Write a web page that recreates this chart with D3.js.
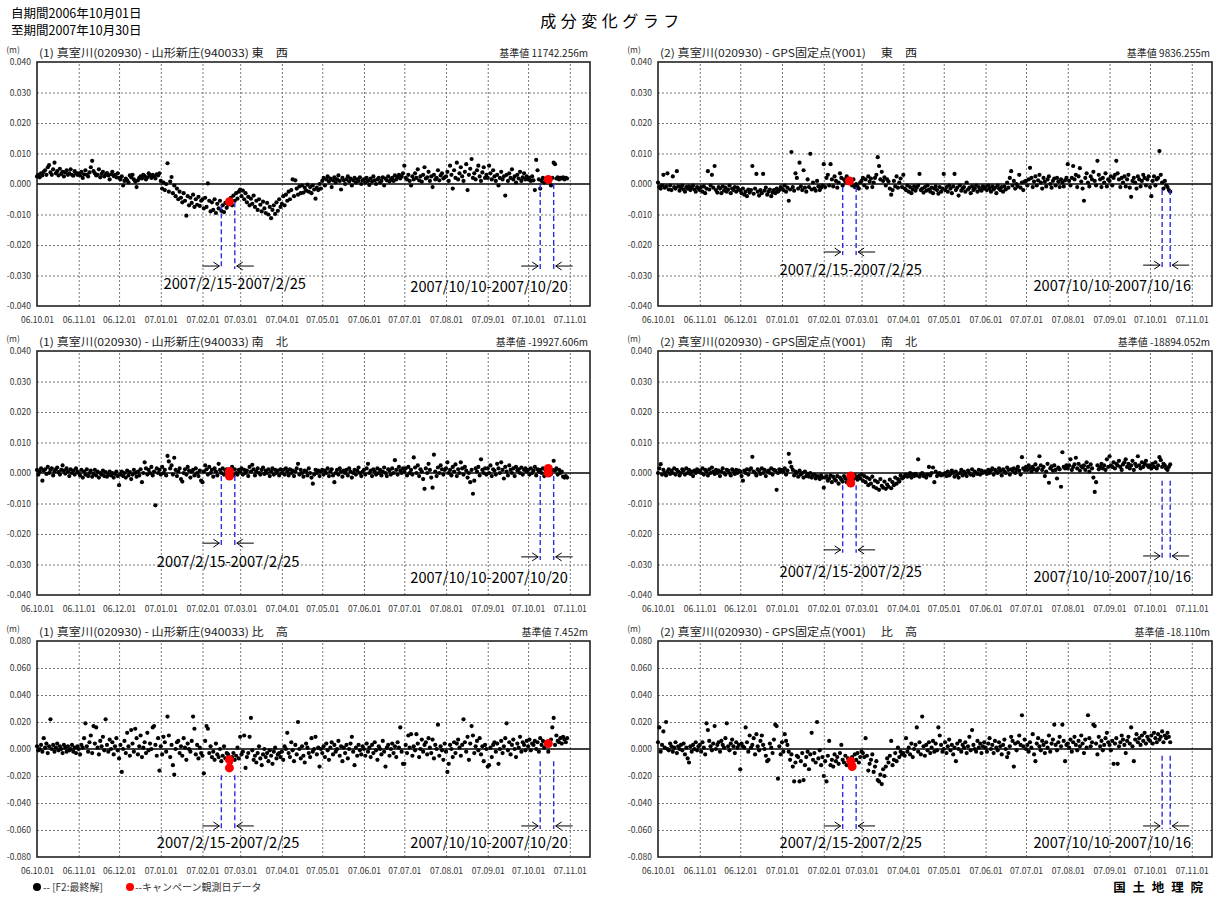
<!DOCTYPE html>
<html>
<head>
<meta charset="utf-8">
<script src="https://cdn.jsdelivr.net/npm/d3@7"></script>
<style>
body { margin: 0; background: #fff; }
svg text { font-family: "Noto Sans CJK JP", "Noto Sans", sans-serif; }
</style>
</head>
<body>
<svg id="chart" width="1215" height="898"></svg>
<script>
// daily values, one inner array per month (2006-10 ... 2007-10)
// rows 1-2 in 0.1 mm, row 3 in 1 mm
const ew1 = [
  [25,30,22,35,28,40,45,30,55,62,38,30,48,70,35,42,28,50,33,40,25,38,45,30,35,48,30,27,42,36,30],
  [35,28,40,20,32,45,30,25,38,55,76,42,35,28,30,48,22,33,40,25,30,36,28,15,32,40,26,30,22,35],
  [20,15,25,-5,10,18,12,5,28,22,30,15,8,-10,12,20,25,18,30,26,15,22,35,28,20,30,25,18,32,28,35],
  [10,-15,5,-20,0,68,-25,8,23,-30,-5,-40,-15,-50,-25,-45,-60,-30,-55,-104,-40,-70,-45,-62,-35,-75,-50,-68,-42,-72,-55],
  [-50,-80,-45,-75,2,-55,-90,-60,-85,-50,-95,-65,-80,-55,-88,-70,-92,-62,-78,-68,-60,-45,-70,-38,-55,-30,-48,-25],
  [-18,-40,-22,-50,-30,-60,-42,-70,-48,-65,-38,-75,-55,-85,-50,-68,-90,-58,-80,-95,-62,-100,-75,-112,-85,-70,-98,-60,-88,-50,-75],
  [-65,-40,-70,-35,-55,-25,-50,-20,15,-40,12,-15,-35,-8,-30,-5,-28,-12,-22,-2,-25,-10,-30,-5,-18,-48,-12,-20,0,-15],
  [10,20,-5,15,25,8,18,-10,12,22,5,15,28,10,-18,20,12,0,15,25,8,18,-5,12,20,5,15,10,22,0,12],
  [15,5,20,10,-3,18,8,25,12,0,15,20,5,10,22,-5,18,12,25,8,15,20,10,28,15,22,30,18,25,35],
  [60,20,15,30,10,-5,25,15,35,20,48,12,25,8,30,55,18,22,40,10,25,-10,30,15,20,45,12,28,35,18,22],
  [25,40,10,60,30,-15,45,20,70,15,35,55,25,10,40,65,-20,30,50,82,20,35,15,45,60,25,10,38,55,20,30],
  [20,60,35,15,45,25,10,30,-5,20,40,15,25,-38,30,10,35,20,48,15,25,5,30,18,40,10,22,35,15,25],
  [15,20,10,25,12,-20,79,45,15,-15,10,20,5,15,12,15,8,-5,20,70,65,18,22,15,20,18,22,15,20,18]
];
const ew2 = [
  [5,-10,-15,-5,30,-12,-8,35,-18,-5,-20,25,-10,-15,42,-8,-22,-12,-5,-18,-25,-10,-15,-8,-20,-12,-5,-18,-25,-10,-15],
  [-20,-10,-25,-8,-30,-15,42,-18,-5,30,-12,59,-20,-28,-10,-15,-30,-8,-22,-12,-25,-18,-5,-30,-15,-20,-10,-25,-12,-18],
  [-22,-30,-15,-35,-25,-40,-18,-28,-20,59,-32,-15,33,-25,-38,-20,-30,33,-22,-12,-35,-25,-18,-40,-28,-20,-30,-15,-25,-20,-10],
  [-15,-20,-5,-25,-12,-55,-18,105,-10,-22,35,20,-15,70,-8,-20,45,-12,-25,15,-10,99,-18,5,-15,-22,10,-8,-20,-12,-5],
  [65,-10,20,30,-5,65,15,-8,25,10,-12,5,35,20,-5,15,8,25,12,5,10,-5,15,-10,0,-8,-15,5],
  [10,20,-5,15,-12,25,8,18,-10,5,20,30,88,59,15,40,10,22,-5,15,8,-15,-35,-20,10,-8,25,-12,5,18,-10],
  [30,-15,-20,-5,-25,-10,-30,-18,-8,-22,-12,-5,33,-20,-15,-28,-10,-22,-5,-18,-25,-12,-30,-15,-8,-20,-32,-10,-25,-15],
  [33,-20,-10,-25,-5,-15,-30,-8,33,-20,-12,-38,-5,-22,-15,-10,-25,5,-18,-12,-30,-8,-20,-15,-5,-25,-10,-18,-22,-8,-15],
  [-10,-20,-5,-15,-25,-8,-18,-12,-30,-5,-15,-20,-10,-25,-8,-18,5,-12,20,42,-5,10,-15,0,-8,30,-12,5,-20,8],
  [10,-5,15,53,20,-10,8,25,-5,12,30,5,-15,20,8,-8,15,25,0,-12,10,18,-5,20,8,-10,15,5,-8,12,20],
  [65,10,-5,20,59,15,30,-10,25,52,8,-15,-55,20,35,5,-8,25,15,40,10,-5,76,30,15,-10,20,5,35,-8,15],
  [10,25,-5,20,30,76,35,15,-10,20,5,25,-8,15,30,-12,-42,10,20,5,-15,25,15,-8,10,30,20,-5,15,25],
  [-10,-40,10,25,-5,15,20,108,30,5,-15,10,-5,-10,-20,-25]
];
const ns1 = [
  [10,-5,5,15,-25,8,12,-3,20,0,10,15,-8,5,12,18,3,-5,10,25,8,-2,15,5,-10,12,0,8,-5,15,5],
  [0,-8,10,-15,5,-5,12,-10,0,8,-12,-3,10,-8,5,-15,0,-5,8,-10,3,-12,-5,5,-8,0,-15,-3,5,-10],
  [-40,-5,5,-10,0,-15,8,-8,3,-20,-5,10,0,-12,5,-8,12,-30,0,35,15,-5,10,0,20,-8,5,-106,15,0,10],
  [-5,20,0,10,-8,56,38,15,25,-5,50,10,-10,5,15,-20,-28,0,12,-5,20,8,-15,5,10,-8,15,0,-10,8,-25],
  [-30,5,25,12,-5,20,0,10,-12,15,5,-8,30,10,0,15,-5,8,12,0,-10,5,20,-8,12,0,-5,10],
  [5,15,-5,10,0,8,-10,20,5,27,12,-8,5,15,0,-5,10,18,-3,8,0,12,-10,5,15,-5,10,0,8,-8,12],
  [0,10,-5,15,5,-8,12,0,8,-10,5,15,30,-5,10,0,-12,8,5,-8,15,0,-15,-35,-5,10,0,8,-10,5],
  [10,-5,8,0,15,-10,5,12,-8,-30,0,10,-5,15,5,-12,8,0,10,-8,15,5,-15,0,10,-5,8,18,0,-10,5],
  [10,-5,15,30,0,8,-10,12,5,-5,15,0,10,-8,5,18,0,-10,12,8,-5,15,0,42,10,-5,20,8,0,15],
  [5,15,-8,20,0,10,-5,51,18,0,25,-10,12,5,-20,-52,15,0,30,10,-15,-48,60,5,-10,18,0,25,12,-5,10],
  [15,35,0,10,-8,20,5,28,-10,12,0,35,15,-5,20,8,-15,0,-30,10,-68,-25,15,5,20,-8,45,10,0,15,-5],
  [15,0,25,-10,12,8,-5,30,15,0,35,10,-18,20,5,-8,25,10,0,15,-10,20,8,12,0,18,-5,10,15,5],
  [10,-5,15,0,8,20,-8,12,5,10,0,15,-10,8,12,15,5,-3,10,40,8,15,-5,10,0,5,-12,-15,-10,-15]
];
const ns2 = [
  [0,15,29,-5,10,0,-8,5,12,-3,8,0,15,-5,10,5,-8,0,12,8,-5,15,0,10,-3,5,-10,8,0,12,5],
  [8,0,15,-5,10,5,-8,12,0,18,5,-3,10,0,8,-10,5,15,0,-5,10,8,0,-8,12,5,-3,10,0,8],
  [5,-10,-25,8,0,12,-5,10,15,53,5,0,-8,12,8,-3,15,0,10,-10,5,8,0,15,-5,10,8,-55,0,12,5],
  [10,5,15,-5,8,63,35,20,10,-8,5,0,-12,8,-5,0,-15,5,-10,-3,-12,0,-15,-8,-5,-18,-10,-12,-20,-8,-15],
  [-48,-15,-10,-25,-18,-8,-30,-12,-20,-25,-10,-35,-15,-22,-28,-10,-18,-30,-15,-20,-25,-12,-20,-8,-15,-22,-10,-18],
  [-5,-25,-10,-30,-15,-40,-20,-35,-12,-45,-25,-50,-30,-55,-20,-42,-48,-28,-52,-38,-45,-22,-50,-30,-40,-15,-35,-20,-28,-8,-18],
  [-15,-10,-5,-12,-8,0,-15,-5,-10,-3,-8,45,-12,-5,0,-10,-8,-15,-5,20,-8,0,18,-30,5,-10,-3,0,-8,-5],
  [-5,0,-10,5,-8,-3,8,0,-12,5,-5,-15,0,10,-8,5,-3,-10,8,0,-5,12,-8,5,0,-3,10,-5,8,0,5],
  [5,-3,10,0,8,15,-5,10,5,0,15,8,-8,12,5,0,18,10,-5,12,8,15,0,10,20,8,-5,52,15,10],
  [20,10,25,15,5,20,12,28,8,15,55,25,10,20,-10,5,30,-32,15,22,8,25,10,-18,18,12,-45,68,20,15,25],
  [15,25,45,10,20,28,50,15,30,8,22,18,25,10,35,20,5,28,15,-15,-62,-30,25,12,20,30,15,25,10,45,20],
  [55,25,20,35,15,30,25,40,20,10,28,35,45,20,30,15,25,40,10,30,22,55,25,15,35,20,30,40,25,20],
  [25,15,30,20,35,15,25,52,42,20,30,25,15,10,20,28]
];
const ud1 = [
  [2,-1,0,3,-2,8,1,4,-3,2,22,0,3,-2,1,4,-1,2,0,-3,3,1,-2,2,-1,0,3,-2,1,-3,2],
  [0,-4,3,1,8,19,2,-2,5,10,-3,17,4,16,1,-4,6,2,9,-1,22,3,-2,7,0,5,-4,2,8,-1],
  [-7,3,-17,0,6,-3,12,2,-5,14,4,-2,15,8,-4,2,10,-6,1,5,-3,12,-1,4,0,16,17,3,-5,8,-16],
  [2,-4,9,5,-2,24,10,-6,3,-12,-19,0,5,6,-3,2,-5,8,1,-8,4,0,-2,6,24,15,-4,3,-7,1,-3],
  [-5,-18,6,17,15,-3,2,-6,-2,-8,4,-4,-6,0,-9,-5,2,-7,-3,-4,-8,-10,-6,-3,-8,-5,1,-7],
  [9,-4,-2,10,-14,-6,-3,9,23,-1,-8,-5,-10,-3,2,-7,-12,-4,0,-6,-3,-9,-1,-5,-11,-2,1,-7,-4,-3,-6],
  [-2,-8,2,0,12,-3,-6,5,-1,-9,3,-4,20,0,-7,2,-5,-10,4,1,-3,-6,8,-2,0,9,-4,1,-13,0],
  [-3,2,-6,4,-1,-8,1,5,-4,3,-2,0,6,-5,2,-9,1,-3,3,-7,0,4,9,-2,-12,1,-5,3,-1,-4,2],
  [0,-5,4,-2,1,-6,3,-3,5,-1,-8,2,0,-4,6,-2,-13,1,3,-5,0,4,-3,2,-6,5,1,16,-2,-11],
  [-11,3,-3,10,1,11,-5,2,-1,11,4,-6,0,7,-2,3,5,-4,8,1,-3,7,-7,3,0,18,-5,2,-1,-8,4],
  [-2,-17,-11,3,0,-6,5,-3,4,7,1,-5,3,22,5,-2,9,-8,4,17,10,-3,2,6,-1,8,-4,2,-9,3,0],
  [-13,-12,1,-6,3,5,-2,4,-11,0,6,-3,2,8,19,-1,5,-4,3,7,0,-6,4,1,9,-2,5,3,-1,6],
  [2,7,-1,4,3,6,0,5,-2,8,3,6,1,5,4,-2,5,7,16,23,3,10,6,5,8,4,9,7,5,8]
];
const ud2 = [
  [5,16,-2,3,13,1,20,0,-1,4,2,-2,1,5,-3,2,0,3,-1,4,-4,1,-7,-10,2,-2,3,0,5,-1,2],
  [3,-2,5,1,-4,19,14,6,2,-1,4,17,0,3,5,-2,6,3,1,8,19,2,-1,4,7,2,-3,5,1,3],
  [-15,4,2,1,16,5,-2,10,1,3,8,-4,11,2,-1,6,10,3,0,-5,-9,-8,4,1,-3,7,18,17,-22,2,-4],
  [5,-2,11,6,3,-2,-8,-4,-13,-24,-10,-5,-6,-24,-9,-3,-23,-12,-6,-2,-15,-4,12,-8,-3,-10,20,-7,-1,-12,-6],
  [-20,-9,-24,-5,6,-12,-8,-13,-4,-9,-6,-11,-3,3,-8,-10,-5,-12,-7,-9,-11,-6,-9,-4,-8,-3,-10,-6],
  [-2,-3,-6,8,-5,-16,-11,-8,-4,-17,-13,-9,-23,-24,-19,-26,-15,-20,-13,-7,-10,-5,6,-12,-8,-3,-9,1,-6,-2,-4],
  [-3,-5,8,-2,1,-4,4,-6,0,3,16,-2,5,-4,24,2,-5,3,-1,5,-3,1,6,-2,4,-1,16,10,3,-2],
  [0,5,-3,2,7,-1,3,-4,1,-9,4,0,6,-2,3,1,5,-3,2,9,-1,14,3,0,-2,6,1,4,-3,2,5],
  [1,-2,4,8,0,3,-3,6,1,-1,5,2,-4,3,7,0,-6,-3,2,9,6,-13,4,-1,5,10,3,25,2,7],
  [0,3,-2,5,1,11,-4,-9,4,8,2,-1,6,3,-3,5,1,10,-2,4,7,18,3,-1,5,9,2,18,6,-9,3],
  [4,1,7,-2,5,9,3,-1,6,2,10,4,-3,7,1,25,8,2,5,18,17,4,-4,9,2,6,-1,3,8,12,5],
  [3,-1,6,-11,4,8,-11,2,5,10,7,3,-3,6,9,4,16,2,-9,7,11,5,8,3,10,6,12,4,9,7],
  [6,10,4,12,8,5,11,7,9,13,5,10,8,12,9,5]
];

// campaign-day values (same units as the panel)
const red1 = [["2007-02-21", -58], ["2007-10-16", 15]];
const red2 = [["2007-02-20", 10]];
const red3 = [["2007-02-21", 5], ["2007-02-21", -10], ["2007-10-16", 0], ["2007-10-16", 15]];
const red4 = [["2007-02-21", -10], ["2007-02-21", -33]];
const red5 = [["2007-02-21", -8], ["2007-02-21", -14], ["2007-10-16", 4]];
const red6 = [["2007-02-21", -9], ["2007-02-22", -13]];

const titles = [
  "(1) 真室川(020930) - 山形新庄(940033)  東　西",
  "(2) 真室川(020930) - GPS固定点(Y001)　 東　西",
  "(1) 真室川(020930) - 山形新庄(940033)  南　北",
  "(2) 真室川(020930) - GPS固定点(Y001)　 南　北",
  "(1) 真室川(020930) - 山形新庄(940033)  比　高",
  "(2) 真室川(020930) - GPS固定点(Y001)　 比　高"
];
const baseValues = ["11742.256", "9836.255", "-19927.606", "-18894.052", "7.452", "-18.110"];
const febSpan = ["2007-02-15", "2007-02-25"];
const octSpanL = ["2007-10-10", "2007-10-20"];
const octSpanR = ["2007-10-10", "2007-10-16"];

const parse = d3.timeParse("%Y-%m-%d");
const start = new Date(2006, 9, 1), end = new Date(2007, 10, 16);
const months = d3.timeMonth.range(start, new Date(2007, 10, 2));
const fmtY = v => d3.format(".3f")(v).replace("−", "-");

const rows = [
  {top: 62, bottom: 306, lim: 0.04},
  {top: 351, bottom: 595, lim: 0.04},
  {top: 641, bottom: 857, lim: 0.08}
];
const cols = [{left: 37, right: 590}, {left: 658, right: 1212}];

// annotation layout: line tops (m), arrow level, label centre date & level
const panels = [
  {data: ew1, unit: 1e-4, red: red1, row: 0, col: 0,
   notes: [{span: febSpan, tops: [-0.007, -0.006], arrow: -0.0269, lx: "2007-02-25", ly: -0.0328},
           {span: octSpanL, tops: [0.0, 0.0], arrow: -0.0269, lx: "2007-09-02", ly: -0.0338}]},
  {data: ew2, unit: 1e-4, red: red2, row: 0, col: 1,
   notes: [{span: febSpan, tops: [-0.001, -0.001], arrow: -0.0223, lx: "2007-02-21", ly: -0.0282},
           {span: octSpanR, tops: [-0.002, -0.002], arrow: -0.0266, lx: "2007-09-03", ly: -0.0334}]},
  {data: ns1, unit: 1e-4, red: red3, row: 1, col: 0,
   notes: [{span: febSpan, tops: [-0.001, -0.001], arrow: -0.023, lx: "2007-02-20", ly: -0.0292},
           {span: octSpanL, tops: [-0.001, -0.001], arrow: -0.0275, lx: "2007-09-02", ly: -0.0344}]},
  {data: ns2, unit: 1e-4, red: red4, row: 1, col: 1,
   notes: [{span: febSpan, tops: [-0.004, -0.004], arrow: -0.0252, lx: "2007-02-21", ly: -0.0325},
           {span: octSpanR, tops: [-0.0025, -0.0025], arrow: -0.0272, lx: "2007-09-03", ly: -0.034}]},
  {data: ud1, unit: 1e-3, red: red5, row: 2, col: 0,
   notes: [{span: febSpan, tops: [-0.0195, -0.0195], arrow: -0.057, lx: "2007-02-20", ly: -0.0696},
           {span: octSpanL, tops: [-0.009, -0.009], arrow: -0.057, lx: "2007-09-02", ly: -0.0696}]},
  {data: ud2, unit: 1e-3, red: red6, row: 2, col: 1,
   notes: [{span: febSpan, tops: [-0.02, -0.02], arrow: -0.057, lx: "2007-02-21", ly: -0.0696},
           {span: octSpanR, tops: [-0.005, -0.005], arrow: -0.057, lx: "2007-09-03", ly: -0.0696}]}
];

const svg = d3.select("#chart");

// header
svg.append("text").attr("x", 11).attr("y", 18).attr("font-size", 12.5).text("自期間2006年10月01日");
svg.append("text").attr("x", 11).attr("y", 35).attr("font-size", 12.5).text("至期間2007年10月30日");
svg.append("text").attr("x", 612).attr("y", 27).attr("text-anchor", "middle")
  .attr("font-size", 16).attr("letter-spacing", 4.5).text("成分変化グラフ");

panels.forEach((p, k) => {
  const r = rows[p.row], c = cols[p.col];
  const x = d3.scaleTime().domain([start, end]).range([c.left, c.right]);
  const y = d3.scaleLinear().domain([-r.lim, r.lim]).range([r.bottom, r.top]);
  const yTicks = d3.ticks(-r.lim, r.lim, 8);
  const w = c.right - c.left, h = r.bottom - r.top;
  const g = svg.append("g");

  // grid
  g.append("g").attr("transform", `translate(0,${r.bottom})`)
    .call(d3.axisBottom(x).tickValues(months.slice(1)).tickSize(-h).tickFormat(""))
    .call(a => a.select(".domain").remove())
    .selectAll("line").attr("stroke", "#777").attr("stroke-dasharray", "2,2");
  g.append("g").attr("transform", `translate(${c.left},0)`)
    .call(d3.axisLeft(y).tickValues(yTicks.filter(v => Math.abs(v) > 1e-9 && Math.abs(v) < r.lim - 1e-9)).tickSize(-w).tickFormat(""))
    .call(a => a.select(".domain").remove())
    .selectAll("line").attr("stroke", "#777").attr("stroke-dasharray", "2,2");

  // tick labels
  g.append("g").attr("transform", `translate(0,${r.bottom})`)
    .call(d3.axisBottom(x).tickValues(months).tickSize(0).tickPadding(11).tickFormat(d3.timeFormat("%y.%m.%d")))
    .call(a => a.select(".domain").remove())
    .selectAll("text").attr("font-size", 8.5).attr("fill", "#333")
    .attr("font-family", "'Noto Sans CJK JP', sans-serif");
  g.append("g").attr("transform", `translate(${c.left},0)`)
    .call(d3.axisLeft(y).tickValues(yTicks).tickSize(0).tickPadding(6).tickFormat(fmtY))
    .call(a => a.select(".domain").remove())
    .selectAll("text").attr("font-size", 8.5).attr("fill", "#333")
    .attr("font-family", "'Noto Sans CJK JP', sans-serif");

  // zero line and frame
  g.append("line").attr("x1", c.left).attr("x2", c.right).attr("y1", y(0)).attr("y2", y(0))
    .attr("stroke", "#000").attr("stroke-width", 1.5);
  g.append("rect").attr("x", c.left).attr("y", r.top).attr("width", w).attr("height", h)
    .attr("fill", "none").attr("stroke", "#222").attr("stroke-width", 1.6);

  // titles
  g.append("text").attr("x", c.left - 24).attr("y", r.top - 9).attr("text-anchor", "middle")
    .attr("font-size", 8.5).attr("fill", "#333").text("(m)");
  g.append("text").attr("x", c.left + 2).attr("y", r.top - 5).attr("font-size", 11).attr("fill", "#222")
    .attr("textLength", p.col ? 257 : 249).attr("lengthAdjust", "spacingAndGlyphs").text(titles[k]);
  g.append("text").attr("x", c.right - 2).attr("y", r.top - 5).attr("text-anchor", "end")
    .attr("font-size", 10).attr("fill", "#222").text("基準値 " + baseValues[k] + "m");

  // points
  const pts = [];
  p.data.forEach((mon, m) => mon.forEach((v, i) => {
    if (v != null) pts.push({date: new Date(2006, 9 + m, 1 + i), v: v * p.unit});
  }));
  g.append("g").selectAll("circle").data(pts).join("circle")
    .attr("cx", d => x(d.date)).attr("cy", d => y(d.v)).attr("r", 2.1).attr("fill", "#000");

  // campaign annotations
  const fmt = s => { const d = parse(s); return `${d.getFullYear()}/${d.getMonth() + 1}/${d.getDate()}`; };
  p.notes.forEach(n => {
    const xs = n.span.map(s => x(parse(s)));
    xs.forEach((xv, i) => {
      g.append("line").attr("x1", xv).attr("x2", xv).attr("y1", y(n.tops[i])).attr("y2", y(n.arrow) + 3)
        .attr("stroke", "#2d2de0").attr("stroke-width", 1.4).attr("stroke-dasharray", "5,3");
    });
    const ay = y(n.arrow);
    const arrow = (x0, x1) => `M${x0},${ay}L${x1},${ay}M${x1 + (x0 < x1 ? -6 : 6)},${ay - 4}L${x1},${ay}L${x1 + (x0 < x1 ? -6 : 6)},${ay + 4}`;
    g.append("path").attr("d", arrow(xs[0] - 19, xs[0] - 2)).attr("fill", "none").attr("stroke", "#000").attr("stroke-width", 1);
    g.append("path").attr("d", arrow(xs[1] + 19, xs[1] + 2)).attr("fill", "none").attr("stroke", "#000").attr("stroke-width", 1);
    const txt = fmt(n.span[0]) + "-" + fmt(n.span[1]);
    g.append("text").attr("x", x(parse(n.lx))).attr("y", y(n.ly)).attr("dy", "0.35em")
      .attr("text-anchor", "middle").attr("font-size", 15).attr("fill", "#000")
      .attr("textLength", txt.length * 7.5).attr("lengthAdjust", "spacingAndGlyphs").text(txt);
  });

  // red campaign-day points
  g.append("g").selectAll("circle").data(p.red).join("circle")
    .attr("cx", d => x(parse(d[0]))).attr("cy", d => y(d[1] * p.unit)).attr("r", 4.5).attr("fill", "#f00");
});

// legend and footer
svg.append("circle").attr("cx", 37).attr("cy", 887).attr("r", 4).attr("fill", "#000");
svg.append("text").attr("x", 43).attr("y", 891).attr("font-size", 10).attr("fill", "#333").text("-- [F2:最終解]");
svg.append("circle").attr("cx", 130).attr("cy", 887).attr("r", 4).attr("fill", "#f00");
svg.append("text").attr("x", 135).attr("y", 891).attr("font-size", 10).attr("fill", "#333").text("--キャンペーン観測日データ");
svg.append("text").attr("x", 1205).attr("y", 892).attr("text-anchor", "end").attr("font-size", 12.5)
  .attr("font-weight", "bold").attr("letter-spacing", 2).text("国 土 地 理 院");
</script>
</body>
</html>
